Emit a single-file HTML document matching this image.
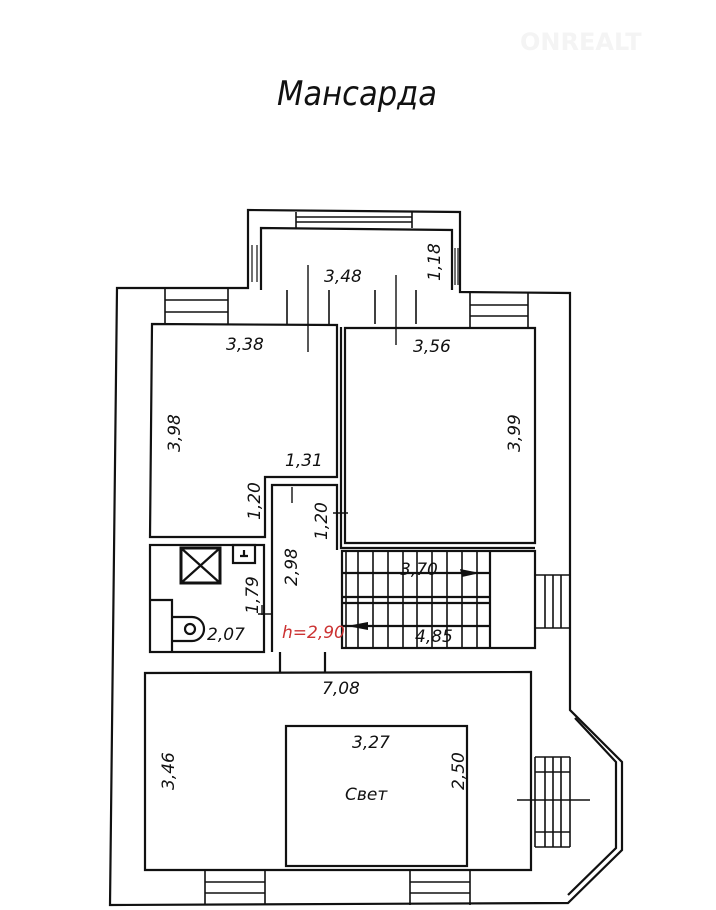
<!DOCTYPE html>
<html><head><meta charset="utf-8"><style>
html,body{margin:0;padding:0;background:#fff;}
svg{display:block}
text{font-family:"DejaVu Sans","Liberation Sans",sans-serif;font-style:italic;fill:#111;}
</style></head><body>
<svg width="716" height="910" viewBox="0 0 716 910" xmlns="http://www.w3.org/2000/svg">
<rect width="716" height="910" fill="#fff"/>
<text x="520" y="50" style="font-style:normal;font-weight:bold;fill:#f4f4f4;font-size:24px">ONREALT</text>
<text x="277" y="105" font-size="34" textLength="160" lengthAdjust="spacingAndGlyphs">Мансарда</text>
<g fill="none" stroke="#111" stroke-width="2.2">
<path d="M117,288 L248,288 L248,210 L460,212 L460,292 L570,293 L570,710 L622,762 L622,850 L568,903 L110,905 Z"/>
<path d="M575,718 L616,762 L616,848 L568,895"/>
<path d="M261,290 L261,228 L452,230 L452,290"/>
<path d="M152,324 L337,325 L337,477 L265,477 L265,537 L150,537 Z"/>
<path d="M345,328 L535,328 L535,543 L345,543 Z"/>
<path d="M341,327 L341,548 L535,548"/>
<path d="M272,652 L272,485 L337,485 L337,550"/>
<rect x="150" y="545" width="114" height="107"/>
<rect x="181" y="548" width="39" height="35" stroke-width="3"/>
<path d="M181,548 L220,583 M220,548 L181,583"/>
<rect x="233" y="545" width="22" height="18"/>
<path d="M240,556 L248,556 M244,556 L244,550"/>
<path d="M150,600 L172,600 L172,652"/>
<path d="M172,617 L192,617 A12,12 0 0 1 192,641 L172,641"/>
<circle cx="190" cy="629" r="5"/>
<rect x="342" y="551" width="193" height="97"/>
<path d="M342,597 L490,597 M342,603 L490,603 M342,573 L490,573 M342,626 L490,626 M490,551 L490,648"/>
<path d="M346,551V648 M358,551V648 M373,551V648 M388,551V648 M403,551V648 M417,551V648 M432,551V648 M447,551V648 M462,551V648 M477,551V648" stroke-width="1.6"/>
<path d="M145,673 L531,672 L531,870 L145,870 Z"/>
<path d="M280,652 L280,673 M325,652 L325,673"/>
<rect x="286" y="726" width="181" height="140"/>
<path d="M165,288V324 M228,288V324 M165,300H228 M165,312H228" stroke-width="1.6"/>
<path d="M470,292V328 M528,292V328 M470,305H528 M470,316H528" stroke-width="1.6"/>
<path d="M287,290V324 M329,290V324 M375,290V324 M416,290V324" stroke-width="1.6"/>
<path d="M296,212V228 M412,212V228 M296,217H412 M296,222H412" stroke-width="1.6"/>
<path d="M248,245V282 M261,245V282 M252,245V282 M257,245V282" stroke-width="1.2"/>
<path d="M452,248V285 M460,248V285 M455,248V285 M458,248V285" stroke-width="1.2"/>
<path d="M535,575H570 M535,628H570 M545,575V628 M553,575V628 M561,575V628" stroke-width="1.6"/>
<path d="M535,757V847 M570,757V847 M545,757V847 M553,757V847 M561,757V847 M535,757H570 M535,847H570 M535,772H570 M535,832H570" stroke-width="1.6"/>
<path d="M205,870V905 M265,870V905 M205,882H265 M205,893H265" stroke-width="1.6"/>
<path d="M410,870V905 M470,870V905 M410,882H470 M410,893H470" stroke-width="1.6"/>
<path d="M308,265V352 M396,275V345 M517,800H590 M292,487V503 M333,513H348 M262,605V615 M258,614H272" stroke-width="1.4"/>
</g>
<polygon points="480,573 460,569 462,577" fill="#111"/>
<polygon points="347,626 368,622 368,630" fill="#111"/>
<g font-size="17">
<text x="324" y="282">3,48</text>
<text x="226" y="350">3,38</text>
<text x="413" y="352">3,56</text>
<text x="285" y="466">1,31</text>
<text x="322" y="694">7,08</text>
<text x="352" y="748">3,27</text>
<text x="345" y="800">Свет</text>
<text x="207" y="640">2,07</text>
<text x="400" y="575">3,70</text>
<text x="415" y="642">4,85</text>
<text x="282" y="638" style="fill:#c33">h=2,90</text>
<text transform="translate(440,281) rotate(-90)">1,18</text>
<text transform="translate(180,452) rotate(-90)">3,98</text>
<text transform="translate(520,452) rotate(-90)">3,99</text>
<text transform="translate(260,520) rotate(-90)">1,20</text>
<text transform="translate(327,540) rotate(-90)">1,20</text>
<text transform="translate(297,586) rotate(-90)">2,98</text>
<text transform="translate(258,614) rotate(-90)">1,79</text>
<text transform="translate(174,790) rotate(-90)">3,46</text>
<text transform="translate(464,790) rotate(-90)">2,50</text>
</g>
</svg>
</body></html>
